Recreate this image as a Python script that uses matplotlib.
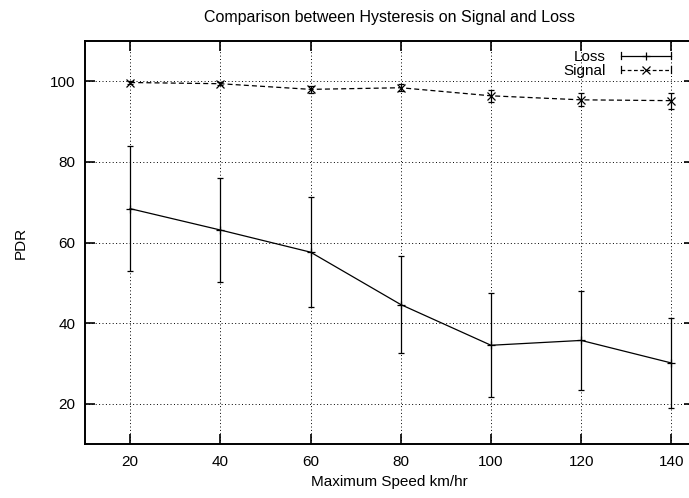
import matplotlib
matplotlib.use("Agg")
import matplotlib.pyplot as plt
from matplotlib.legend_handler import HandlerBase
from matplotlib.lines import Line2D

plt.rcParams['font.family'] = ['Liberation Sans', 'DejaVu Sans']

speeds = [20, 40, 60, 80, 100, 120, 140]

loss_pdr = [68.4, 63.1, 57.6, 44.6, 34.5, 35.7, 30.1]
loss_err = [15.5, 12.8, 13.6, 12.0, 12.9, 12.2, 11.2]

signal_pdr = [99.7, 99.4, 98.0, 98.4, 96.4, 95.4, 95.2]
signal_err = [0.4, 0.4, 0.8, 0.9, 1.5, 1.6, 2.0]


class GnuplotErrHandler(HandlerBase):
    # legend sample in the gnuplot style: |---+---|
    def __init__(self, ls, marker):
        super().__init__()
        self.ls = ls
        self.marker = marker

    def create_artists(self, legend, orig_handle, xdescent, ydescent,
                       width, height, fontsize, trans):
        y = height / 2 - ydescent
        x0, x1 = -xdescent, width - xdescent
        cap = height * 0.3
        arts = [
            Line2D([x0, x1], [y, y], color='black', lw=0.9, ls=self.ls),
            Line2D([x0, x0], [y - cap, y + cap], color='black', lw=0.9),
            Line2D([x1, x1], [y - cap, y + cap], color='black', lw=0.9),
            Line2D([(x0 + x1) / 2], [y], color='black', marker=self.marker,
                   ms=6, mew=0.9, ls='none'),
        ]
        for a in arts:
            a.set_transform(trans)
        return arts


fig = plt.figure(figsize=(6.89, 4.98), dpi=100)
ax = fig.add_axes([85 / 689, 54 / 498, 609 / 689, 403 / 498])

loss = ax.errorbar(speeds, loss_pdr, yerr=loss_err, color='black', lw=0.9,
                   elinewidth=0.9, capsize=2.5, capthick=0.9,
                   marker='+', ms=6, mew=0.9)
sig = ax.errorbar(speeds, signal_pdr, yerr=signal_err, color='black', lw=0.9,
                  ls=(0, (4, 2.5)), elinewidth=0.9, capsize=2.5, capthick=0.9,
                  marker='x', ms=6, mew=0.9)

ax.set_xlim(10, 145)
ax.set_ylim(10, 110)
ax.set_xticks(speeds)
ax.set_yticks([20, 40, 60, 80, 100])

ax.grid(True, ls=(0, (1, 2.5)), color='black', lw=0.7)
ax.tick_params(direction='in', length=7, width=1.2, top=True, right=True,
               labelsize=11)
ax.tick_params(axis='y', pad=7)
ax.tick_params(axis='x', pad=8)
for s in ax.spines.values():
    s.set_linewidth(1.4)

ax.set_xlabel('Maximum Speed km/hr', fontsize=11, labelpad=4)
ax.set_ylabel('PDR', fontsize=11, labelpad=16)
ax.set_title('Comparison between Hysteresis on Signal and Loss',
             fontsize=11.5, pad=14)

ax.legend([loss, sig], ['Loss', 'Signal'], loc='upper right',
          bbox_to_anchor=(0.985, 1.012), frameon=False, markerfirst=False,
          fontsize=11, handlelength=3.3, handletextpad=1.0, labelspacing=0.0,
          handler_map={loss: GnuplotErrHandler('-', '+'),
                       sig: GnuplotErrHandler((0, (3, 2)), 'x')})

fig.savefig('out.png', dpi=100)
